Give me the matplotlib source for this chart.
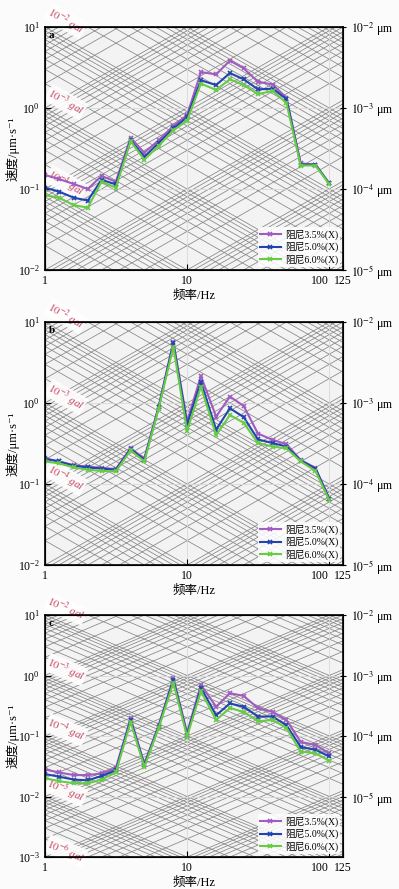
import matplotlib
matplotlib.use('Agg')
import matplotlib.pyplot as plt
import numpy as np

plt.rcParams['font.family'] = ['Liberation Serif', 'DejaVu Serif', 'Noto Sans CJK SC']
plt.rcParams['mathtext.fontset'] = 'stix'

# 1/3 倍频程中心频率
freqs = [1, 1.25, 1.6, 2, 2.5, 3.15, 4, 5, 6.3, 8, 10, 12.5, 16, 20, 25, 31.5, 40, 50, 63, 80, 100]

# 图 a
purple_a = [0.149, 0.133, 0.115, 0.10, 0.145, 0.123, 0.43, 0.28, 0.40, 0.60, 0.82, 2.78, 2.6, 3.84, 3.09, 2.11, 1.95, 1.34, 0.207, 0.20, 0.117]
blue_a = [0.104, 0.093, 0.078, 0.072, 0.13, 0.114, 0.40, 0.25, 0.37, 0.56, 0.77, 2.2, 1.92, 2.7, 2.26, 1.7, 1.73, 1.29, 0.20, 0.20, 0.117]
green_a = [0.084, 0.078, 0.063, 0.059, 0.123, 0.104, 0.39, 0.23, 0.34, 0.53, 0.70, 2.0, 1.67, 2.26, 1.92, 1.48, 1.63, 1.15, 0.195, 0.195, 0.115]

# 图 b
purple_b = [0.207, 0.19, 0.17, 0.164, 0.158, 0.153, 0.275, 0.207, 0.9, 5.7, 0.59, 2.15, 0.68, 1.2, 0.92, 0.42, 0.35, 0.31, 0.198, 0.158, 0.066]
blue_b = [0.205, 0.19, 0.168, 0.16, 0.155, 0.15, 0.27, 0.2, 0.88, 5.45, 0.54, 1.83, 0.47, 0.86, 0.67, 0.355, 0.32, 0.29, 0.195, 0.155, 0.066]
green_b = [0.19, 0.18, 0.16, 0.15, 0.145, 0.143, 0.26, 0.19, 0.85, 4.95, 0.45, 1.59, 0.40, 0.71, 0.57, 0.32, 0.29, 0.275, 0.19, 0.145, 0.063]

# 图 c
purple_c = [0.028, 0.025, 0.0226, 0.0226, 0.024, 0.0294, 0.196, 0.035, 0.15, 0.9, 0.114, 0.70, 0.305, 0.51, 0.46, 0.29, 0.25, 0.184, 0.08, 0.071, 0.052]
blue_c = [0.0235, 0.0213, 0.019, 0.0185, 0.0218, 0.027, 0.185, 0.033, 0.143, 0.85, 0.105, 0.63, 0.22, 0.345, 0.305, 0.21, 0.21, 0.15, 0.066, 0.059, 0.046]
green_c = [0.02, 0.018, 0.0165, 0.0165, 0.019, 0.025, 0.17, 0.031, 0.135, 0.76, 0.098, 0.55, 0.184, 0.29, 0.25, 0.175, 0.184, 0.136, 0.055, 0.052, 0.039]

labels = ['阻尼3.5%(X)', '阻尼5.0%(X)', '阻尼6.0%(X)']
colors = ['#a05cc0', '#2244b0', '#66cc44']

panels = [
    ('a', [purple_a, blue_a, green_a], (1e-2, 1e1), [-2, -3, -4, -5], 27, 270, ['-2', '-3', '-4']),
    ('b', [purple_b, blue_b, green_b], (1e-2, 1e1), [-2, -3, -4, -5], 322, 565, ['-2', '-3', '-4']),
    ('c', [purple_c, blue_c, green_c], (1e-3, 1e1), [-2, -3, -4, -5], 615, 857, ['-2', '-3', '-4', '-5', '-6']),
]

W, H = 399, 889
fig = plt.figure(figsize=(W / 100, H / 100), dpi=100)
fig.patch.set_facecolor('#fbfbfb')

left_px, right_px = 45, 343
gal_color = '#c4425f'

for letter, series, ylim, right_exp, top_px, bot_px, gal_exp in panels:
    ax = fig.add_axes([left_px / W, 1 - bot_px / H, (right_px - left_px) / W, (bot_px - top_px) / H])
    ax.set_facecolor('#f3f3f3')
    ax.set_xscale('log')
    ax.set_yscale('log')
    ax.set_xlim(1, 125)
    ax.set_ylim(*ylim)

    # 三联谱网格
    ff = np.array([0.9, 140])
    for n in range(-9, 6):
        for k in range(1, 10):
            c = k * 10.0 ** n
            ax.plot(ff, c * ff, color='#858585', lw=0.55, zorder=1)
            ax.plot(ff, c / ff, color='#858585', lw=0.55, zorder=1)
    ax.grid(True, which='both', color='#d8d8d8', lw=0.6, zorder=0)

    for vals, lab, col in zip(series, labels, colors):
        ax.plot(freqs, vals, color=col, lw=1.5, marker='x', ms=3.5, mew=1.2, label=lab, zorder=4)

    ax.set_xticks([1, 10, 100, 125])
    ax.set_xticklabels(['1', '10', '100', '125'])
    ax.get_xticklabels()[2].set_horizontalalignment('right')
    ax.minorticks_off()
    ax.tick_params(direction='in', labelsize=8.5, length=4)
    for s in ax.spines.values():
        s.set_linewidth(1.2)
    ax.set_xlabel('频率/Hz', fontsize=9, labelpad=2)
    ax.text(0.012, 0.985, letter, transform=ax.transAxes, fontsize=8, fontweight='bold', va='top', zorder=5)

    leg = ax.legend(loc='lower right', fontsize=7, frameon=True, framealpha=0.85, edgecolor='none',
                    borderpad=0.2, labelspacing=0.25, handlelength=2.2, handletextpad=0.4, borderaxespad=0.3)
    leg.get_frame().set_facecolor('white')
    leg.set_zorder(6)

    # 加速度标注（在曲线下方）
    span = bot_px - top_px
    ndec = np.log10(ylim[1]) - np.log10(ylim[0])
    ang = -np.degrees(np.arctan((span / ndec) / ((right_px - left_px) / np.log10(125))))
    for i, ge in enumerate(gal_exp):
        ypx = top_px - 6 + i * span / ndec
        ax.text((66 - left_px) / (right_px - left_px), (bot_px - ypx) / span, '$10^{%s}$ gal' % ge,
                transform=ax.transAxes, color=gal_color, fontsize=8, style='italic', rotation=ang,
                ha='center', va='center', zorder=2, clip_on=False,
                bbox=dict(facecolor='white', edgecolor='none', pad=0.6, alpha=0.9))

    # 右侧位移刻度
    ax2 = ax.twinx()
    ax2.set_yscale('log')
    ax2.set_ylim(*ylim)
    pos = [10.0 ** e for e in [1, 0, -1, -2]]
    ax2.set_yticks(pos)
    ax2.set_yticklabels(['$10^{%d}$ μm' % e for e in right_exp])
    ax2.minorticks_off()
    ax2.tick_params(direction='inout', labelsize=8.5, length=5)

    # 纵轴标题
    fig.text(13 / W, 1 - (top_px + bot_px) / 2 / H, '速度/μm·s⁻¹', rotation=90, fontsize=9,
             ha='center', va='center')

fig.savefig('out.png', dpi=100, facecolor=fig.get_facecolor())
